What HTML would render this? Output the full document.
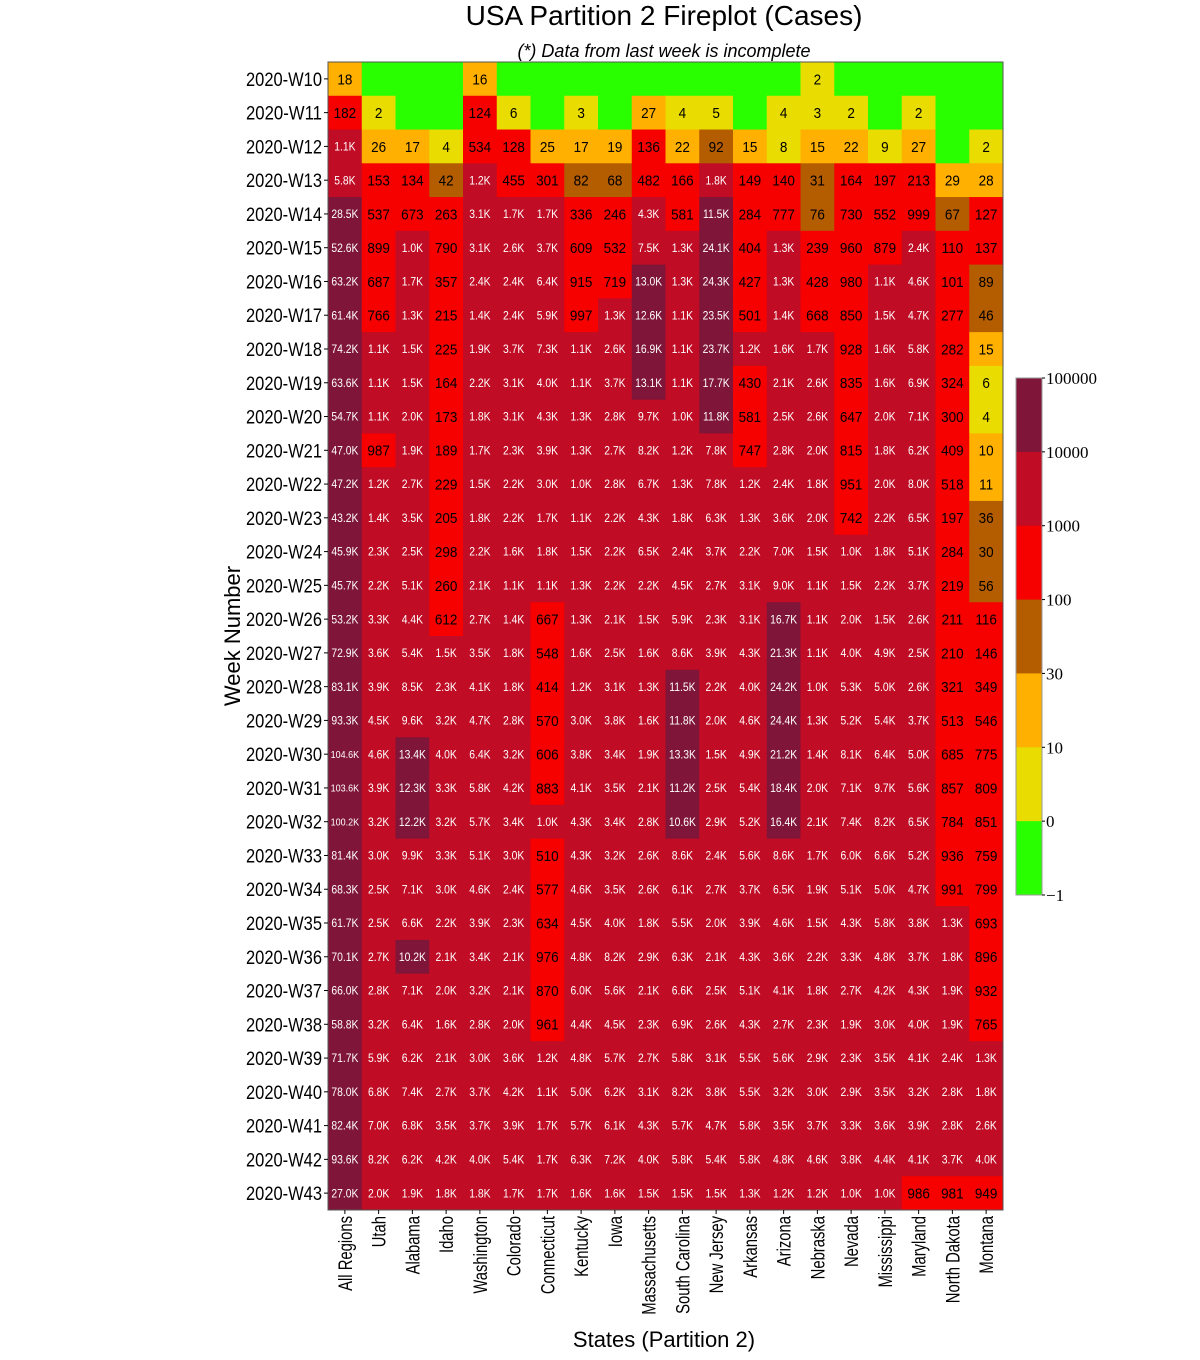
<!DOCTYPE html>
<html><head><meta charset="utf-8">
<style>
html,body{margin:0;padding:0;background:#fff;}
svg{display:block;font-family:"Liberation Sans",sans-serif;}
</style></head>
<body>
<svg id="chart" width="1200" height="1360" viewBox="0 0 1200 1360" xmlns="http://www.w3.org/2000/svg">
<text x="664" y="25" font-size="28" text-anchor="middle">USA Partition 2 Fireplot (Cases)</text>
<text x="664" y="57" font-size="18" font-style="italic" text-anchor="middle">(*) Data from last week is incomplete</text>
<text transform="translate(240,636) rotate(-90)" font-size="22" text-anchor="middle">Week Number</text>
<text x="664" y="1347" font-size="22" text-anchor="middle">States (Partition 2)</text>
<g id="cells"></g><g id="ylab"></g><g id="xlab"></g><g id="cbar"></g>
</svg>
<script>
const states = ["All Regions","Utah","Alabama","Idaho","Washington","Colorado","Connecticut","Kentucky","Iowa","Massachusetts","South Carolina","New Jersey","Arkansas","Arizona","Nebraska","Nevada","Mississippi","Maryland","North Dakota","Montana"];
const weeks = [];
for (let w = 10; w <= 43; w++) weeks.push("2020-W" + w);
const rowsText = [
"18,0,0,0,16,0,0,0,0,0,0,0,0,0,2,0,0,0,0,0",
"182,2,0,0,124,6,0,3,0,27,4,5,0,4,3,2,0,2,0,0",
"1.1K,26,17,4,534,128,25,17,19,136,22,92,15,8,15,22,9,27,0,2",
"5.8K,153,134,42,1.2K,455,301,82,68,482,166,1.8K,149,140,31,164,197,213,29,28",
"28.5K,537,673,263,3.1K,1.7K,1.7K,336,246,4.3K,581,11.5K,284,777,76,730,552,999,67,127",
"52.6K,899,1.0K,790,3.1K,2.6K,3.7K,609,532,7.5K,1.3K,24.1K,404,1.3K,239,960,879,2.4K,110,137",
"63.2K,687,1.7K,357,2.4K,2.4K,6.4K,915,719,13.0K,1.3K,24.3K,427,1.3K,428,980,1.1K,4.6K,101,89",
"61.4K,766,1.3K,215,1.4K,2.4K,5.9K,997,1.3K,12.6K,1.1K,23.5K,501,1.4K,668,850,1.5K,4.7K,277,46",
"74.2K,1.1K,1.5K,225,1.9K,3.7K,7.3K,1.1K,2.6K,16.9K,1.1K,23.7K,1.2K,1.6K,1.7K,928,1.6K,5.8K,282,15",
"63.6K,1.1K,1.5K,164,2.2K,3.1K,4.0K,1.1K,3.7K,13.1K,1.1K,17.7K,430,2.1K,2.6K,835,1.6K,6.9K,324,6",
"54.7K,1.1K,2.0K,173,1.8K,3.1K,4.3K,1.3K,2.8K,9.7K,1.0K,11.8K,581,2.5K,2.6K,647,2.0K,7.1K,300,4",
"47.0K,987,1.9K,189,1.7K,2.3K,3.9K,1.3K,2.7K,8.2K,1.2K,7.8K,747,2.8K,2.0K,815,1.8K,6.2K,409,10",
"47.2K,1.2K,2.7K,229,1.5K,2.2K,3.0K,1.0K,2.8K,6.7K,1.3K,7.8K,1.2K,2.4K,1.8K,951,2.0K,8.0K,518,11",
"43.2K,1.4K,3.5K,205,1.8K,2.2K,1.7K,1.1K,2.2K,4.3K,1.8K,6.3K,1.3K,3.6K,2.0K,742,2.2K,6.5K,197,36",
"45.9K,2.3K,2.5K,298,2.2K,1.6K,1.8K,1.5K,2.2K,6.5K,2.4K,3.7K,2.2K,7.0K,1.5K,1.0K,1.8K,5.1K,284,30",
"45.7K,2.2K,5.1K,260,2.1K,1.1K,1.1K,1.3K,2.2K,2.2K,4.5K,2.7K,3.1K,9.0K,1.1K,1.5K,2.2K,3.7K,219,56",
"53.2K,3.3K,4.4K,612,2.7K,1.4K,667,1.3K,2.1K,1.5K,5.9K,2.3K,3.1K,16.7K,1.1K,2.0K,1.5K,2.6K,211,116",
"72.9K,3.6K,5.4K,1.5K,3.5K,1.8K,548,1.6K,2.5K,1.6K,8.6K,3.9K,4.3K,21.3K,1.1K,4.0K,4.9K,2.5K,210,146",
"83.1K,3.9K,8.5K,2.3K,4.1K,1.8K,414,1.2K,3.1K,1.3K,11.5K,2.2K,4.0K,24.2K,1.0K,5.3K,5.0K,2.6K,321,349",
"93.3K,4.5K,9.6K,3.2K,4.7K,2.8K,570,3.0K,3.8K,1.6K,11.8K,2.0K,4.6K,24.4K,1.3K,5.2K,5.4K,3.7K,513,546",
"104.6K,4.6K,13.4K,4.0K,6.4K,3.2K,606,3.8K,3.4K,1.9K,13.3K,1.5K,4.9K,21.2K,1.4K,8.1K,6.4K,5.0K,685,775",
"103.6K,3.9K,12.3K,3.3K,5.8K,4.2K,883,4.1K,3.5K,2.1K,11.2K,2.5K,5.4K,18.4K,2.0K,7.1K,9.7K,5.6K,857,809",
"100.2K,3.2K,12.2K,3.2K,5.7K,3.4K,1.0K,4.3K,3.4K,2.8K,10.6K,2.9K,5.2K,16.4K,2.1K,7.4K,8.2K,6.5K,784,851",
"81.4K,3.0K,9.9K,3.3K,5.1K,3.0K,510,4.3K,3.2K,2.6K,8.6K,2.4K,5.6K,8.6K,1.7K,6.0K,6.6K,5.2K,936,759",
"68.3K,2.5K,7.1K,3.0K,4.6K,2.4K,577,4.6K,3.5K,2.6K,6.1K,2.7K,3.7K,6.5K,1.9K,5.1K,5.0K,4.7K,991,799",
"61.7K,2.5K,6.6K,2.2K,3.9K,2.3K,634,4.5K,4.0K,1.8K,5.5K,2.0K,3.9K,4.6K,1.5K,4.3K,5.8K,3.8K,1.3K,693",
"70.1K,2.7K,10.2K,2.1K,3.4K,2.1K,976,4.8K,8.2K,2.9K,6.3K,2.1K,4.3K,3.6K,2.2K,3.3K,4.8K,3.7K,1.8K,896",
"66.0K,2.8K,7.1K,2.0K,3.2K,2.1K,870,6.0K,5.6K,2.1K,6.6K,2.5K,5.1K,4.1K,1.8K,2.7K,4.2K,4.3K,1.9K,932",
"58.8K,3.2K,6.4K,1.6K,2.8K,2.0K,961,4.4K,4.5K,2.3K,6.9K,2.6K,4.3K,2.7K,2.3K,1.9K,3.0K,4.0K,1.9K,765",
"71.7K,5.9K,6.2K,2.1K,3.0K,3.6K,1.2K,4.8K,5.7K,2.7K,5.8K,3.1K,5.5K,5.6K,2.9K,2.3K,3.5K,4.1K,2.4K,1.3K",
"78.0K,6.8K,7.4K,2.7K,3.7K,4.2K,1.1K,5.0K,6.2K,3.1K,8.2K,3.8K,5.5K,3.2K,3.0K,2.9K,3.5K,3.2K,2.8K,1.8K",
"82.4K,7.0K,6.8K,3.5K,3.7K,3.9K,1.7K,5.7K,6.1K,4.3K,5.7K,4.7K,5.8K,3.5K,3.7K,3.3K,3.6K,3.9K,2.8K,2.6K",
"93.6K,8.2K,6.2K,4.2K,4.0K,5.4K,1.7K,6.3K,7.2K,4.0K,5.8K,5.4K,5.8K,4.8K,4.6K,3.8K,4.4K,4.1K,3.7K,4.0K",
"27.0K,2.0K,1.9K,1.8K,1.8K,1.7K,1.7K,1.6K,1.6K,1.5K,1.5K,1.5K,1.3K,1.2K,1.2K,1.0K,1.0K,986,981,949"
];
const values = rowsText.map(r => r.split(",").map(s => s.endsWith("K") ? Math.round(parseFloat(s) * 1000) : Number(s)));
const cbTicks = ["100000","10000","1000","100","30","10","0","\u22121"];
const cbColors = ["#7f1538","#c00c25","#f60000","#b35c00","#ffb000","#e8dc00","#2aff00"];

const NS = "http://www.w3.org/2000/svg";
const X0 = 328, X1 = 1003, Y0 = 62, Y1 = 1210;
const cw = (X1 - X0) / states.length, ch = (Y1 - Y0) / weeks.length;
const xPos = i => X0 + i * cw;
const yPos = j => Y0 + j * ch;
function colorOf(v) {
  if (v <= 0) return cbColors[6];
  if (v < 10) return cbColors[5];
  if (v < 30) return cbColors[4];
  if (v < 100) return cbColors[3];
  if (v < 1000) return cbColors[2];
  if (v < 10000) return cbColors[1];
  return cbColors[0];
}
function fmt(v) { return v >= 1000 ? (v / 1000).toFixed(1) + "K" : String(v); }
function mk(tag, attrs, parent) {
  const e = document.createElementNS(NS, tag);
  for (const k in attrs) e.setAttribute(k, attrs[k]);
  parent.appendChild(e);
  return e;
}
const gc = document.getElementById("cells");
values.forEach((row, j) => {
  row.forEach((v, i) => {
    const r = mk("rect", {x: xPos(i), y: yPos(j), width: cw + 0.5, height: ch + 0.5, fill: colorOf(v)}, gc);
    
    
    if (v > 0) {
      const s = fmt(v);
      const big = v >= 1000;
      const fs = big ? (s.length > 5 ? 10 : 11.5) : 15;
      const cx = xPos(i) + cw / 2, cy = yPos(j) + ch / 2 + fs * 0.36;
      const t = mk("text", {transform: "translate(" + cx + "," + cy + ") scale(0.9,1)", "font-size": fs, "text-anchor": "middle", fill: big ? "#fff" : "#000"}, gc);
      t.textContent = s;
      
      
    }
  });
});
mk("rect", {x: X0, y: Y0, width: X1 - X0, height: Y1 - Y0, fill: "none", stroke: "#555", "stroke-width": 1}, gc);
const gy = document.getElementById("ylab");
weeks.forEach((w, j) => {
  mk("line", {x1: X0 - 4, x2: X0, y1: yPos(j) + ch / 2, y2: yPos(j) + ch / 2, stroke: "#000"}, gy);
  const t = mk("text", {x: X0 - 6, y: yPos(j) + ch / 2 + 7, "font-size": 19, "text-anchor": "end", "textLength": 76, "lengthAdjust": "spacingAndGlyphs"}, gy);
  t.textContent = w;
  
  
});
const gx = document.getElementById("xlab");
states.forEach((s, i) => {
  const cx = xPos(i) + cw / 2;
  mk("line", {x1: cx, x2: cx, y1: Y1, y2: Y1 + 4, stroke: "#000"}, gx);
  const t = mk("text", {transform: "translate(" + (cx + 7) + "," + (Y1 + 6) + ") rotate(-90) scale(0.78,1)", "font-size": 19, "text-anchor": "end"}, gx);
  t.textContent = s;
  
  
});
const gb = document.getElementById("cbar");
const CBX = 1016, CBW = 26, CBT = 378, CBB = 895;
const segH = (CBB - CBT) / cbColors.length;
cbColors.forEach((c, k) => {
  const r = mk("rect", {x: CBX, y: CBT + k * segH, width: CBW, height: segH + 0.5, fill: c}, gb);
  
  
});
mk("rect", {x: CBX, y: CBT, width: CBW, height: CBB - CBT, fill: "none", stroke: "#999"}, gb);
cbTicks.forEach((s, k) => {
  const y = CBT + k * segH;
  mk("line", {x1: CBX + CBW, x2: CBX + CBW + 3, y1: y, y2: y, stroke: "#000"}, gb);
  const t = mk("text", {x: CBX + CBW + 4, y: y + 6, "font-size": 17, "font-family": "Liberation Serif, serif"}, gb);
  t.textContent = s;
  
  
});
</script>
</body></html>
